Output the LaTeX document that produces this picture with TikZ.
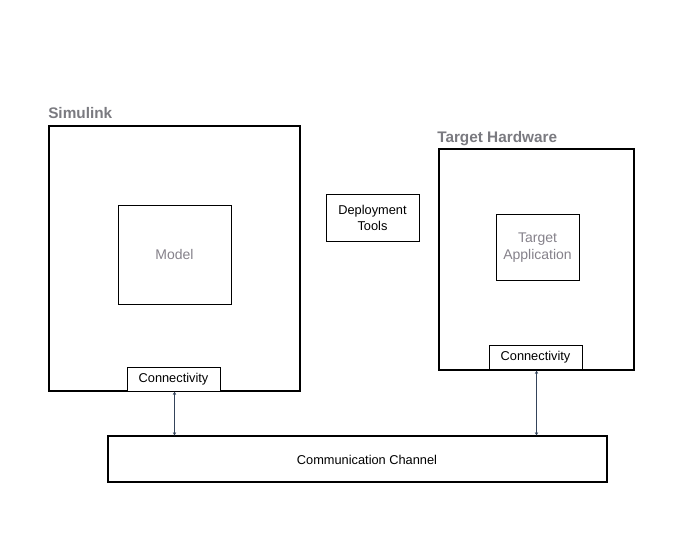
\documentclass[tikz,border=0pt]{standalone}
\usepackage{fontspec}
\setmainfont{Liberation Sans}
\usetikzlibrary{arrows.meta}
\definecolor{lblgray}{HTML}{7A7A80}
\definecolor{txtgray}{HTML}{85818A}
\definecolor{arrowc}{HTML}{34435A}
\begin{document}
\begin{tikzpicture}[x=0.75pt,y=-0.75pt,
  outer/.style={draw=black,line width=1.5pt},
  inner/.style={draw=black,line width=0.75pt},
  smalltxt/.style={font=\fontsize{9.6}{12}\selectfont,text=black,align=center},
  graytxt/.style={font=\fontsize{10.5}{12.8}\selectfont,text=txtgray,align=center},
  titletxt/.style={font=\fontsize{11.5}{13}\selectfont\bfseries,text=lblgray,anchor=base west,inner sep=0pt},
  link/.style={draw=arrowc,line width=0.75pt,{Stealth[length=2.5pt,width=2.5pt]}-{Stealth[length=2.5pt,width=2.5pt]}}]
\useasboundingbox (0,0) rectangle (688,536);
% Simulink
\draw[outer] (49,126) rectangle (300,391);
\node[titletxt] (simlbl) at (48,118) {Simulink};
\draw[inner] (118,205) rectangle (231,304);
\node[graytxt] (model) at (174.5,254.5) {Model};
\draw[inner,fill=white] (127,367) rectangle (220,391);
\node[smalltxt] (conL) at (173.5,379) {Connectivity};
\coordinate (conLb) at (174.5,391.5);
% Deployment tools
\draw[inner] (326,194) rectangle (419,241);
\node[smalltxt] (dep) at (372.5,217.5) {Deployment\\Tools};
% Target hardware
\draw[outer] (439,149) rectangle (634,370);
\node[titletxt] (thlbl) at (437,142) {Target Hardware};
\draw[inner] (496,214) rectangle (579,280);
\node[graytxt] (tapp) at (537.5,247.5) {Target\\Application};
\draw[inner,fill=white] (489,345) rectangle (582,369);
\node[smalltxt] (conR) at (535.5,357) {Connectivity};
\coordinate (conRb) at (536.5,370.5);
% Communication channel
\draw[outer] (108,436) rectangle (607,482);
\node[smalltxt] (comm) at (367,460) {Communication Channel};
\coordinate (commL) at (174.5,435.5);
\coordinate (commR) at (536.5,435.5);
% links
\draw[link] (conLb) -- (commL);
\draw[link] (conRb) -- (commR);
\end{tikzpicture}
\end{document}
